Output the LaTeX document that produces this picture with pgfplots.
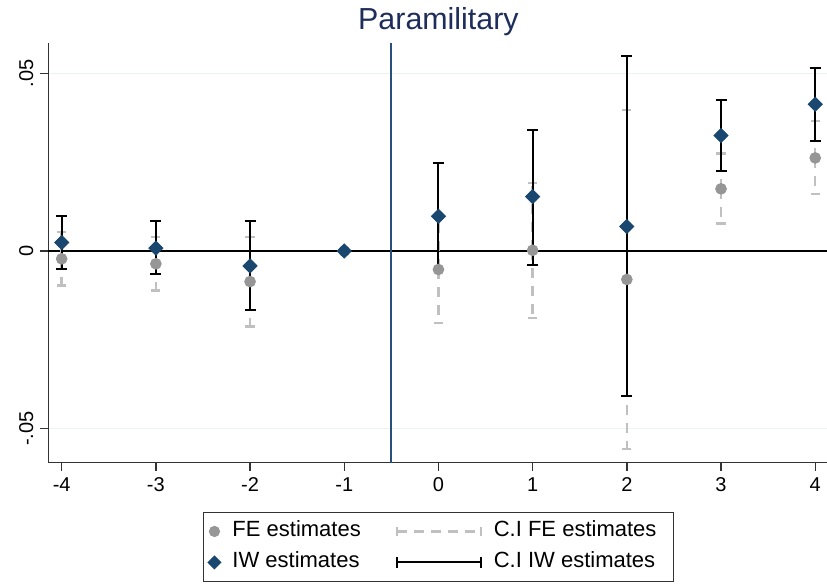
\documentclass[border=0pt]{standalone}
\usepackage{fontspec}
\setmainfont{Liberation Sans}
\usepackage{pgfplots}
\usepackage{pgfplotstable}
\pgfplotsset{compat=1.18}
\definecolor{navyc}{RGB}{26,71,111}
\definecolor{vlinec}{RGB}{40,80,125}
\definecolor{fegray}{RGB}{150,150,150}
\definecolor{cigray}{RGB}{192,192,192}
\definecolor{gridc}{RGB}{234,242,243}
\definecolor{titlec}{RGB}{30,45,90}

\pgfplotstableread{
x y
-4 -0.0022
-3 -0.0036
-2 -0.0086
-1 0
0 -0.0052
1 0.0002
2 -0.0080
3 0.0175
4 0.0262
}\fepts
\pgfplotstableread{
x y lo hi
-4 -0.0022 -0.0097 0.0054
-3 -0.0036 -0.0111 0.0039
-2 -0.0086 -0.0212 0.0039
0 -0.0052 -0.0202 0.0099
1 0.0002 -0.0188 0.0192
2 -0.0080 -0.0557 0.0397
3 0.0175 0.0077 0.0275
4 0.0262 0.0160 0.0366
}\feci
\pgfplotstableread{
x y
-4 0.0024
-3 0.0008
-2 -0.0042
-1 0
0 0.0098
1 0.0153
2 0.0069
3 0.0325
4 0.0413
}\iwpts
\pgfplotstableread{
x y lo hi
-4 0.0024 -0.0051 0.0099
-3 0.0008 -0.0066 0.0084
-2 -0.0042 -0.0166 0.0084
0 0.0098 -0.0051 0.0247
1 0.0153 -0.0038 0.0342
2 0.0069 -0.0407 0.0548
3 0.0325 0.0226 0.0424
4 0.0413 0.0311 0.0514
}\iwci

\begin{document}
\begin{tikzpicture}
\useasboundingbox (0,0) rectangle (413.5pt,292pt);
\begin{axis}[
  at={(24.15pt,60.65pt)}, anchor=south west,
  scale only axis, width=390.15pt, height=209.7pt,
  xmin=-4.142, xmax=4.142, ymin=-0.05958, ymax=0.05846,
  axis x line*=bottom, axis y line*=left,
  axis line style={black!80, line width=0.7pt, -},
  xtick={-4,-3,-2,-1,0,1,2,3,4},
  xticklabels={-4,-3,-2,-1,0,1,2,3,4},
  ytick={-0.05,0,0.05},
  yticklabels={-.05,0,.05},
  scaled y ticks=false,
  tick align=outside, major tick length=4pt,
  tick style={black!80, line width=0.7pt},
  ticklabel style={font=\fontsize{10}{12}\selectfont},
  yticklabel style={rotate=90, anchor=south},
  ymajorgrids, grid style={gridc, line width=0.8pt},
  legend columns=2,
  legend style={at={(0.5,-0.1165)}, anchor=north, draw=black!80, line width=0.6pt,
    font=\fontsize{11}{13}\selectfont, inner xsep=0pt, inner ysep=1.9pt,
    nodes={inner sep=0pt, text height=10.5pt, text depth=5pt}, column sep=0pt},
  legend cell align=left,
  clip=false,
]
\draw[black, line width=0.9pt] (axis cs:-4.142,0) -- (axis cs:4.142,0);
\draw[vlinec, line width=0.9pt] (axis cs:-0.5,-0.05958) -- (axis cs:-0.5,0.05846);
\node[font=\fontsize{15.2}{18}\selectfont, text=titlec, anchor=base] at (axis description cs:0.5,1.034) {Paramilitary};

\addplot[cigray, line width=1.2pt, only marks, mark=none, forget plot,
  error bars/.cd, y dir=both, y explicit,
  error bar style={cigray, line width=1.2pt, dash pattern=on 5pt off 4pt},
  error mark options={cigray, solid, line width=1.2pt, mark size=2.3pt, rotate=90}]
  table[x=x, y=y, y error plus expr=\thisrow{hi}-\thisrow{y}, y error minus expr=\thisrow{y}-\thisrow{lo}] {\feci};
\addplot[only marks, mark=*, mark size=2.7pt, fegray, forget plot] table[x=x,y=y] {\fepts};
\addplot[black, line width=1pt, only marks, mark=none, forget plot,
  error bars/.cd, y dir=both, y explicit,
  error bar style={black, line width=1pt},
  error mark options={black, line width=1pt, mark size=2.75pt, rotate=90}]
  table[x=x, y=y, y error plus expr=\thisrow{hi}-\thisrow{y}, y error minus expr=\thisrow{y}-\thisrow{lo}] {\iwci};
\addplot[only marks, mark=square*, mark size=2.5pt, mark options={rotate=45}, navyc, forget plot] table[x=x,y=y] {\iwpts};

\addlegendimage{legend image code/.code={\path[draw=none,fill=none] (-4pt,-3pt) rectangle (10.5pt,3pt); \fill[fegray] (1.5pt,0) circle (2.5pt);}}
\addlegendentry{FE estimates}
\addlegendimage{legend image code/.code={\path[draw=none,fill=none] (0pt,-3pt) rectangle (66.5pt,3pt);
  \draw[cigray, line width=1.2pt, dash pattern=on 5pt off 3.5pt] (18pt,0) -- (60pt,0);
  \draw[cigray, line width=1.2pt] (18pt,-2.3pt) -- (18pt,2.3pt) (60pt,-2.3pt) -- (60pt,2.3pt);}}
\addlegendentry{C.I FE estimates\rule{8.5pt}{0pt}}
\addlegendimage{legend image code/.code={\path[draw=none,fill=none] (-4pt,-3pt) rectangle (10.5pt,3pt); \fill[navyc, rotate around={45:(1.5pt,0)}] (-0.7pt,-2.2pt) rectangle (3.7pt,2.2pt);}}
\addlegendentry{IW estimates}
\addlegendimage{legend image code/.code={\path[draw=none,fill=none] (0pt,-3pt) rectangle (66.5pt,3pt);
  \draw[black, line width=1pt] (18pt,0) -- (60pt,0);
  \draw[black, line width=1pt] (18pt,-2.75pt) -- (18pt,2.75pt) (60pt,-2.75pt) -- (60pt,2.75pt);}}
\addlegendentry{C.I IW estimates\rule{8.5pt}{0pt}}
\end{axis}
\end{tikzpicture}
\end{document}
